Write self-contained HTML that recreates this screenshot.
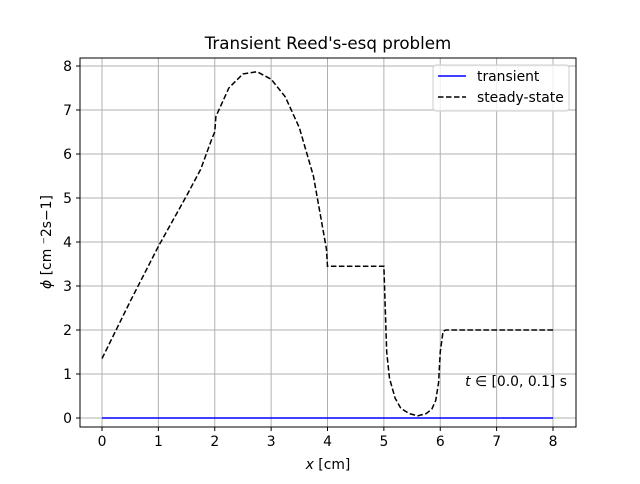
<!DOCTYPE html>
<html><head><meta charset="utf-8"><style>
body{margin:0;background:#fff;font-family:"DejaVu Sans","Liberation Sans",sans-serif}
svg text{font-family:"DejaVu Sans","Liberation Sans",sans-serif;fill:#000}
</style></head><body>
<svg id="chart" width="640" height="480" viewBox="0 0 640 480">
<rect width="640" height="480" fill="#fff"/>
<text x="328" y="49" font-size="16.7" text-anchor="middle">Transient Reed's-esq problem</text>
<g id="grid"></g>
<g id="ticks"></g>
<g id="series"></g>
<rect x="80" y="58" width="496" height="369" fill="none" stroke="#000" stroke-width="1"/>
<text x="328" y="469" font-size="13.9" text-anchor="middle"><tspan font-style="italic">x</tspan> [cm]</text>
<text transform="translate(51,242) rotate(-90)" font-size="13.9" text-anchor="middle"><tspan font-style="italic">ϕ</tspan> [cm ⁻2s−1]</text>
<text x="567" y="386" font-size="13.9" text-anchor="end"><tspan font-style="italic">t</tspan> ∈ [0.0, 0.1] s</text>
<g>
<rect x="433" y="65" width="136" height="46" rx="3" fill="#fff" fill-opacity="0.8" stroke="#ccc"/>
<g><line x1="438" y1="76" x2="466" y2="76" stroke="blue" stroke-width="1.5"/><text x="477" y="81" font-size="13.9">transient</text></g>
<g><line x1="438" y1="97" x2="466" y2="97" stroke="#000" stroke-width="1.5" stroke-dasharray="5.5,2.5"/><text x="477" y="102" font-size="13.9">steady-state</text></g>
</g>
</svg>
<script>
const xTicks=[0,1,2,3,4,5,6,7,8];
const yTicks=[0,1,2,3,4,5,6,7,8];
const steadyX=[0,0.5,1,1.5,1.75,1.95,2.0,2.02,2.25,2.5,2.75,3.0,3.25,3.5,3.75,3.98,4.0,4.5,5.0,5.05,5.1,5.2,5.3,5.45,5.6,5.75,5.85,5.92,5.97,6.0,6.05,6.1,7,8];
const steadyY=[1.35,2.65,3.9,5.05,5.65,6.35,6.5,6.85,7.5,7.82,7.87,7.7,7.3,6.6,5.5,3.85,3.45,3.45,3.45,1.5,0.9,0.45,0.22,0.1,0.05,0.1,0.2,0.4,0.8,1.5,1.97,2.0,2.0,2.0];
const transX=[0,8];
const transY=[0,0];
const NS="http://www.w3.org/2000/svg";
const sx=v=>102+56.375*v, sy=v=>418-44*v;
const grid=document.getElementById('grid'),ticks=document.getElementById('ticks'),ser=document.getElementById('series');
function mk(tag,attrs,parent){const e=document.createElementNS(NS,tag);for(const k in attrs)e.setAttribute(k,attrs[k]);parent.appendChild(e);return e;}
xTicks.forEach(t=>{
 const g=mk('line',{x1:sx(t),x2:sx(t),y1:58,y2:427,stroke:'#b0b0b0','stroke-width':1},grid);
 
 
 mk('line',{x1:sx(t),x2:sx(t),y1:427,y2:431,stroke:'#000'},ticks);
 const l=mk('text',{x:sx(t),y:446,'font-size':13.9,'text-anchor':'middle'},ticks);l.textContent=t;
 
 
});
yTicks.forEach(t=>{
 const g=mk('line',{x1:80,x2:576,y1:sy(t),y2:sy(t),stroke:'#b0b0b0','stroke-width':1},grid);
 
 
 mk('line',{x1:76,x2:80,y1:sy(t),y2:sy(t),stroke:'#000'},ticks);
 const l=mk('text',{x:72,y:sy(t)+5,'font-size':13.9,'text-anchor':'end'},ticks);l.textContent=t;
 
 
});
const tp=mk('polyline',{points:transX.map((x,i)=>sx(x)+','+sy(transY[i])).join(' '),fill:'none',stroke:'blue','stroke-width':1.5},ser);


const sp=mk('polyline',{points:steadyX.map((x,i)=>sx(x)+','+sy(steadyY[i])).join(' '),fill:'none',stroke:'#000','stroke-width':1.5,'stroke-dasharray':'5.5,2.5'},ser);


</script>
</body></html>
